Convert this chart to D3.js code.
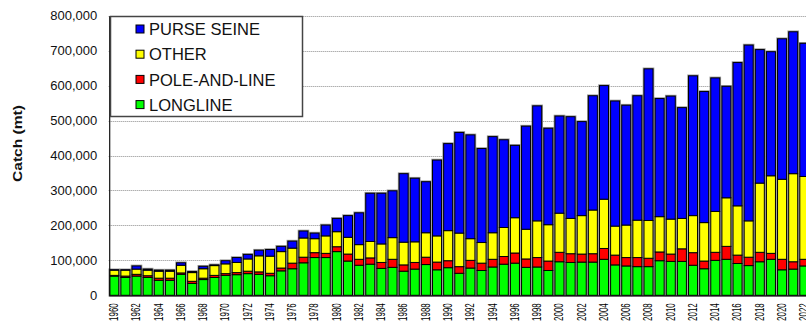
<!DOCTYPE html>
<html>
<head>
<meta charset="utf-8">
<script src="https://cdn.jsdelivr.net/npm/d3@7"></script>
<style>
  html, body { margin: 0; padding: 0; background: #fff; }
  svg { display: block; font-family: "Liberation Sans", Arial, sans-serif; }
</style>
</head>
<body>
<svg id="chart" width="806" height="331"></svg>
<script>
// Annual catch by gear type, 1960-2022 (thousand metric tons)
const years = d3.range(1960, 2023);
const longline = [55,51,55,51,43,43,60,34,45,51,57,59,62,60,56,70,76,93,108,108,125,98,86,89,77,80,69,75,88,73,
  79,63,78,71,81,89,92,80,81,71,96,94,95,95,103,87,84,82,82,99,97,97,86,76,100,103,91,85,96,103,73,75,84];
const poleAndLine = [2,4,5,5,6,6,4,6,4,6,5,6,7,7,7,8,16,16,14,12,14,20,17,18,17,23,18,19,21,22,
  20,19,22,21,22,22,29,24,27,27,27,25,23,24,31,28,24,26,24,25,21,36,36,22,23,37,24,24,27,17,30,21,19];
const other = [15,17,15,16,20,20,22,25,27,28,28,29,35,46,49,47,43,55,40,50,43,48,42,47,53,62,65,59,70,75,
  86,96,62,59,76,83,101,85,105,104,112,101,110,125,141,83,93,107,108,101,100,87,106,110,117,139,141,104,198,222,229,252,237];
const purseSeine = [1,1,9,3,3,3,7,3,7,2,9,14,13,16,19,15,20,20,16,31,38,62,91,138,145,134,196,182,146,217,
  249,288,297,269,275,251,207,295,329,276,278,291,269,327,325,358,343,356,434,338,352,317,400,375,382,319,410,503,382,355,402,406,381];

const seriesNames = ["LONGLINE", "POLE-AND-LINE", "OTHER", "PURSE SEINE"];
const seriesColors = ["#00ff00", "#ff0000", "#ffff00", "#0000ff"];
const yTicks = [0, 100000, 200000, 300000, 400000, 500000, 600000, 700000, 800000];
const xTickYears = years.filter(y => y % 2 === 0);

const rows = years.map((yr, i) => ({
  year: yr,
  "LONGLINE": longline[i] * 1000,
  "POLE-AND-LINE": poleAndLine[i] * 1000,
  "OTHER": other[i] * 1000,
  "PURSE SEINE": purseSeine[i] * 1000
}));

const svg = d3.select("#chart");
const left = 108.7, step = 11.13;

const x = d3.scaleBand()
  .domain(years)
  .range([left, left + step * years.length])
  .paddingInner(0.1)
  .paddingOuter(0.05);

const y = d3.scaleLinear().domain([0, 800000]).range([295.3, 15.7]);

// dotted horizontal gridlines
svg.append("g")
  .selectAll("line")
  .data(yTicks.filter(d => d > 0))
  .join("line")
  .attr("x1", left).attr("x2", 806)
  .attr("y1", d => Math.round(y(d)) + 0.5).attr("y2", d => Math.round(y(d)) + 0.5)
  .attr("stroke", "#8c8c8c")
  .attr("stroke-width", 1)
  .attr("stroke-dasharray", "1,1");

const stack = d3.stack().keys(seriesNames)(rows);
const total = d => d3.sum(seriesNames, k => d[k]);

// soft grey halo behind each bar
svg.append("g")
  .selectAll("rect")
  .data(rows)
  .join("rect")
  .attr("x", d => x(d.year) + 0.5)
  .attr("width", x.bandwidth() - 1)
  .attr("y", d => y(total(d)))
  .attr("height", d => y(0) - y(total(d)))
  .attr("fill", "none")
  .attr("stroke", "#9a9a9a")
  .attr("stroke-width", 2.6);

// stacked segments
svg.append("g")
  .selectAll("g")
  .data(stack)
  .join("g")
  .attr("fill", (d, i) => seriesColors[i])
  .selectAll("rect")
  .data(d => d)
  .join("rect")
  .attr("x", d => x(d.data.year) + 0.5)
  .attr("width", x.bandwidth() - 1)
  .attr("y", d => y(d[1]))
  .attr("height", d => Math.max(0, y(d[0]) - y(d[1])))
  .attr("stroke", "#000")
  .attr("stroke-width", 1);

// y axis
const yAxis = svg.append("g")
  .attr("transform", `translate(${left + 0.5},0)`)
  .call(d3.axisLeft(y).tickValues(yTicks).tickFormat(d3.format(",")).tickSize(0).tickPadding(12));
yAxis.select(".domain").attr("stroke", "#111").attr("stroke-width", 1.2);
yAxis.selectAll("text")
  .attr("font-size", 13)
  .attr("font-family", "Liberation Sans, Arial, sans-serif")
  .attr("fill", "#111");

// x axis with vertical, narrow year labels
const xScaleText = 0.66;
const xAxis = svg.append("g")
  .attr("transform", `translate(0,${y(0)})`)
  .call(d3.axisBottom(x).tickValues(xTickYears).tickSize(0));
xAxis.select(".domain").attr("stroke", "#111").attr("stroke-width", 1.2);
xAxis.selectAll("text")
  .attr("transform", `rotate(-90) scale(${xScaleText},1)`)
  .attr("x", -8 / xScaleText)
  .attr("y", 3.8)
  .attr("dy", 0)
  .style("text-anchor", "end")
  .attr("font-size", 12)
  .attr("font-family", "Liberation Sans, Arial, sans-serif")
  .attr("fill", "#000");

// y axis title
svg.append("text")
  .attr("transform", "translate(21.5,143.5) rotate(-90)")
  .attr("text-anchor", "middle")
  .attr("font-size", 12)
  .attr("font-weight", "bold")
  .attr("fill", "#111")
  .attr("textLength", 77)
  .attr("lengthAdjust", "spacingAndGlyphs")
  .text("Catch (mt)");

// legend
const legend = svg.append("g");
legend.append("rect")
  .attr("x", 110.5).attr("y", 16.5)
  .attr("width", 192).attr("height", 100)
  .attr("fill", "#fff")
  .attr("stroke", "#444")
  .attr("stroke-width", 1.5);

const legendOrder = [3, 2, 1, 0];
const items = legend.selectAll("g.item")
  .data(legendOrder)
  .join("g")
  .attr("class", "item")
  .attr("transform", (d, i) => `translate(136,${25 + i * 25.2})`);
items.append("rect")
  .attr("width", 8).attr("height", 8)
  .attr("fill", d => seriesColors[d])
  .attr("stroke", "#000")
  .attr("stroke-width", 1);
items.append("text")
  .attr("x", 13)
  .attr("y", 10.2)
  .attr("font-size", 16.5)
  .attr("fill", "#111")
  .text(d => seriesNames[d]);
</script>
</body>
</html>
